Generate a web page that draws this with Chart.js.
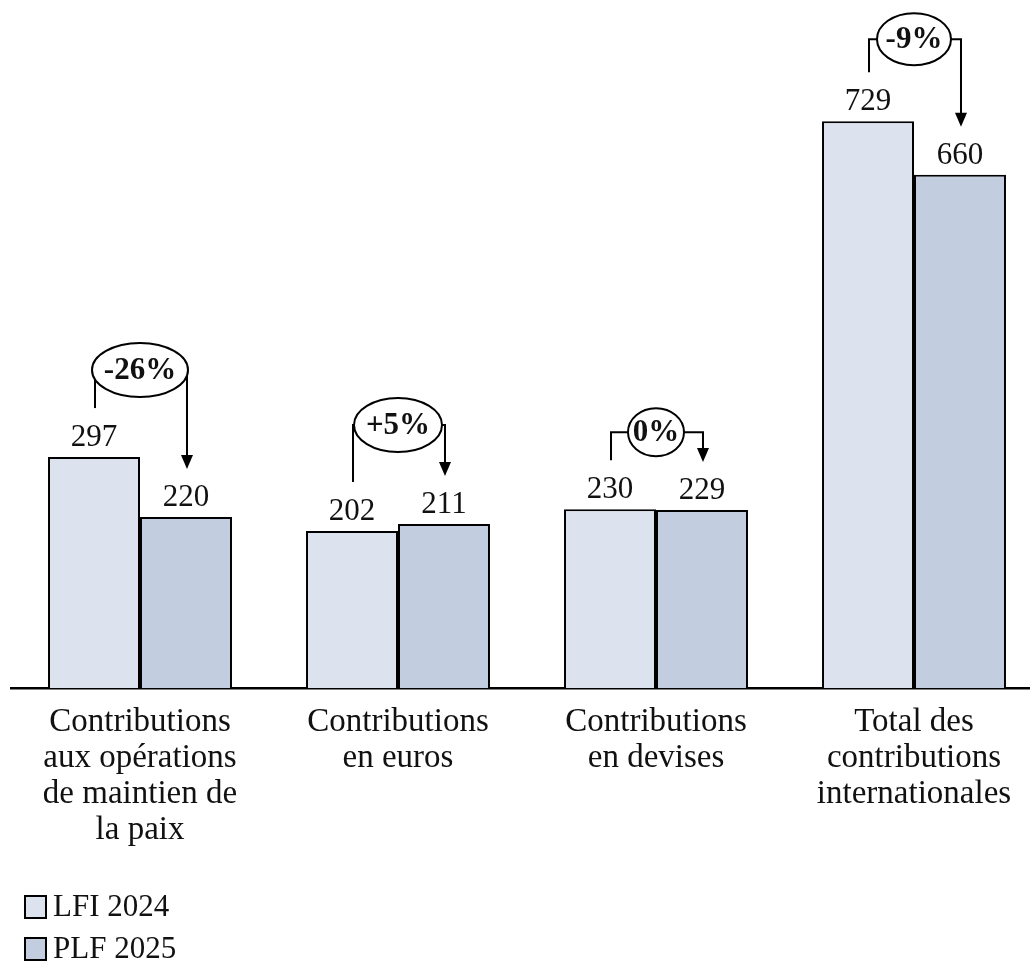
<!DOCTYPE html>
<html>
<head>
<meta charset="utf-8">
<script src="https://cdn.jsdelivr.net/npm/chart.js@4"></script>
<style>
  body { margin: 0; overflow: hidden; background: #fff; }
</style>
</head>
<body>
<canvas id="barplot" width="1044" height="972"></canvas>
<script>
var categories = [
  ['Contributions', 'aux opérations', 'de maintien de', 'la paix'],
  ['Contributions', 'en euros'],
  ['Contributions', 'en devises'],
  ['Total des', 'contributions', 'internationales']
];
var seriesNames = ['LFI 2024', 'PLF 2025'];
var lfi2024 = [297, 202, 230, 729];
var plf2025 = [220, 211, 229, 660];
var changeLabels = ['-26%', '+5%', '0%', '-9%'];

// hand placed bubbles (pixels)
var bubbleLift = [87, 106, 77, 82];
var bubbleRx = [48, 44, 28, 37];
var bubbleRy = [27, 27, 24, 26];

var serif = '"Liberation Serif", "DejaVu Serif", serif';
var ink = '#111';

var decorations = {
  id: 'decorations',
  afterDatasetsDraw: function (chart) {
    var ctx = chart.ctx;
    var m0 = chart.getDatasetMeta(0).data;
    var m1 = chart.getDatasetMeta(1).data;
    ctx.save();
    // value labels
    ctx.fillStyle = ink;
    ctx.font = '31px ' + serif;
    ctx.textAlign = 'center';
    ctx.textBaseline = 'alphabetic';
    [m0, m1].forEach(function (bars, d) {
      bars.forEach(function (b, i) {
        ctx.fillText(chart.data.datasets[d].data[i], b.x, b.y - 11);
      });
    });
    // change bubbles
    ctx.strokeStyle = '#000';
    ctx.lineWidth = 2;
    for (var i = 0; i < changeLabels.length; i++) {
      var a = m0[i], b = m1[i];
      var cx = (a.x + b.x) / 2;
      var cy = a.y - bubbleLift[i];
      var rx = bubbleRx[i], ry = bubbleRy[i];
      var x1 = a.x + 1, x2 = b.x + 1;
      // left bracket
      ctx.beginPath();
      ctx.moveTo(x1, a.y - 49);
      ctx.lineTo(x1, cy);
      if (cx - rx > x1) ctx.lineTo(cx - rx, cy);
      ctx.stroke();
      // right bracket + arrow
      var tip = b.y - 48;
      var startY = cy;
      ctx.beginPath();
      if (cx + rx < x2) {
        ctx.moveTo(cx + rx, cy);
        ctx.lineTo(x2, cy);
      } else {
        var t = (x2 - cx) / rx;
        startY = cy + ry * Math.sqrt(Math.max(0, 1 - t * t));
        ctx.moveTo(x2, startY);
      }
      ctx.lineTo(x2, tip - 12);
      ctx.stroke();
      ctx.beginPath();
      ctx.moveTo(x2 - 6, tip - 14);
      ctx.lineTo(x2 + 6, tip - 14);
      ctx.lineTo(x2, tip);
      ctx.closePath();
      ctx.fillStyle = '#000';
      ctx.fill();
      // ellipse
      ctx.beginPath();
      ctx.ellipse(cx, cy, rx, ry, 0, 0, Math.PI * 2);
      ctx.fillStyle = '#fff';
      ctx.fill();
      ctx.stroke();
      ctx.fillStyle = ink;
      ctx.font = 'bold 31px ' + serif;
      ctx.textBaseline = 'middle';
      ctx.fillText(changeLabels[i], cx, cy + 1);
    }
    // legend
    var colors = chart.data.datasets.map(function (ds) { return ds.backgroundColor; });
    ctx.font = '31px ' + serif;
    ctx.textAlign = 'left';
    ctx.textBaseline = 'middle';
    seriesNames.forEach(function (name, k) {
      var y = 896 + k * 42;
      ctx.fillStyle = colors[k];
      ctx.fillRect(25, y, 21, 22);
      ctx.strokeRect(25, y, 21, 22);
      ctx.fillStyle = ink;
      ctx.fillText(name, 53, y + 12);
    });
    ctx.restore();
  }
};

new Chart('barplot', {
  type: 'bar',
  data: {
    labels: categories,
    datasets: [{
      label: seriesNames[0],
      data: lfi2024,
      backgroundColor: '#dde3ee',
      borderColor: '#000',
      borderWidth: 2,
      barPercentage: 1,
      categoryPercentage: 0.713
    }, {
      label: seriesNames[1],
      data: plf2025,
      backgroundColor: '#c3cde0',
      borderColor: '#000',
      borderWidth: 2,
      barPercentage: 1,
      categoryPercentage: 0.713
    }]
  },
  options: {
    responsive: false,
    animation: false,
    layout: { padding: { left: 11, right: 1, top: 10, bottom: 0 } },
    plugins: {
      legend: { display: false },
      tooltip: { enabled: false },
      title: { display: false }
    },
    scales: {
      x: {
        grid: { display: false },
        border: { display: true, color: '#000', width: 2.5 },
        ticks: {
          color: ink,
          font: { family: serif, size: 33, lineHeight: 1.09 },
          padding: 8,
          maxRotation: 0,
          autoSkip: false
        },
        afterFit: function (s) { s.height = 972 - 688; }
      },
      y: {
        display: false,
        min: 0,
        max: 872
      }
    }
  },
  plugins: [decorations]
});
</script>
</body>
</html>
